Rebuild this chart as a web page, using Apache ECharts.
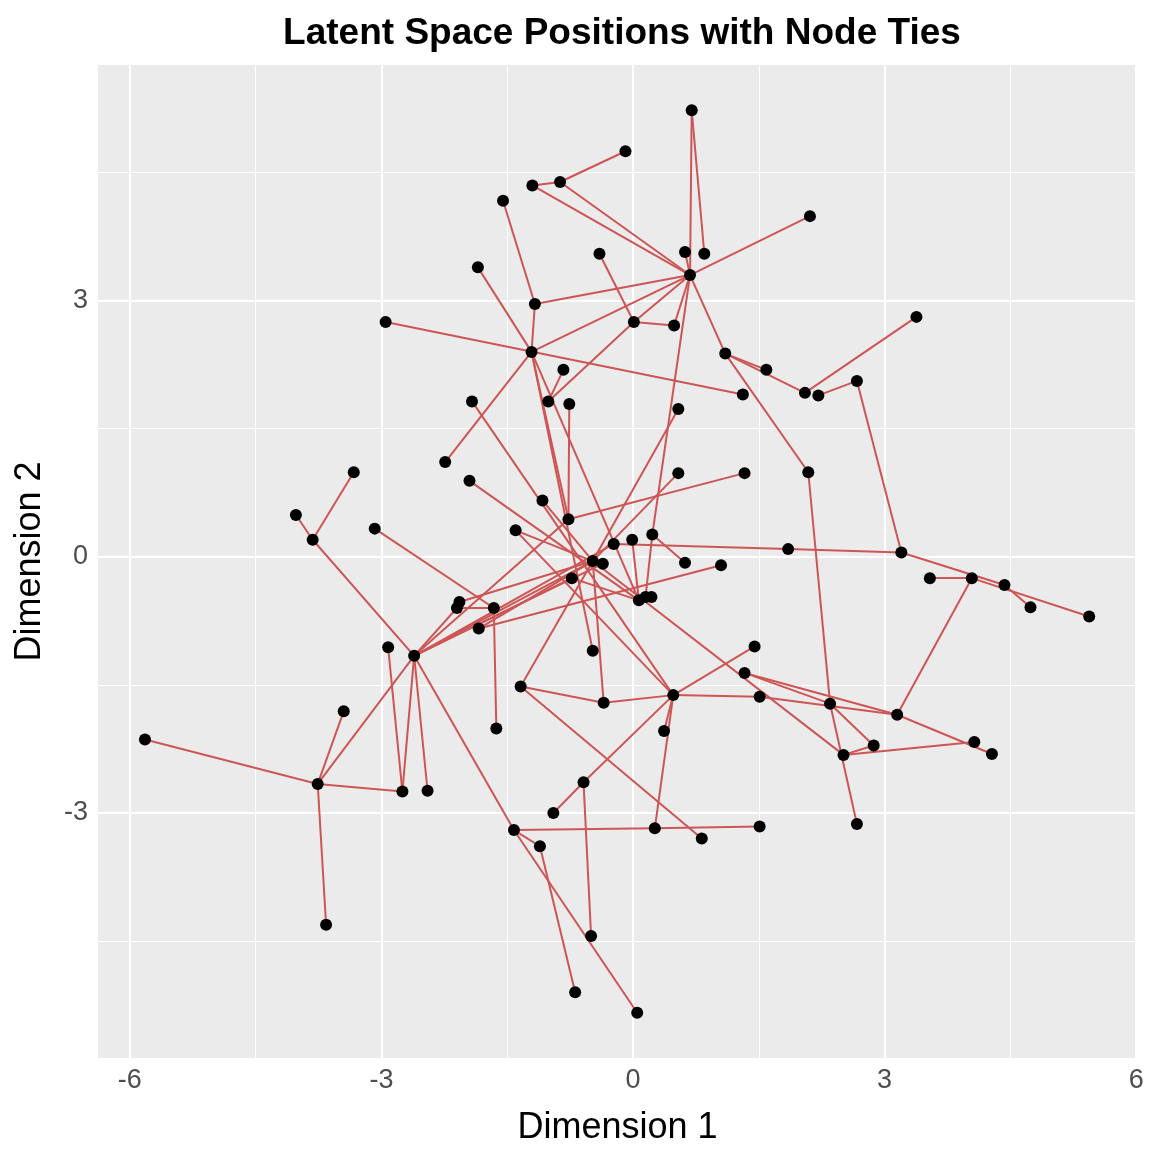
<!DOCTYPE html>
<html>
<head>
<meta charset="utf-8">
<script src="https://cdn.jsdelivr.net/npm/echarts@6/dist/echarts.min.js"></script>
<style>
html, body { margin: 0; padding: 0; background: #fff; }
#chart { width: 1152px; height: 1152px; }
</style>
</head>
<body>
<div id="chart"></div>
<script>
// node ids and latent positions
var nodeIds = ['A','B','C','D','E','F','G','I','J','H1','K','L','M','N','O','P','H2','Q','R','S','T','U','V','W','X','Y','Z','AA','AB','AC','H3','AD','AE','AF','AG','AH','H4','AI','AJ','AK','AL','AM','AN','AO','AP','AQ','AR','AS','AT','AU','AV','AW','AX','AY','AZ','BA','BB','BC','BD','BE','BF','BG','BH','BI','BJ','H5','BK','BL','BM','BN','BO','BP','BQ','BR','BS','BT','BU','BV','BW','BX','BY','H6','BZ','CA','CB','CC','CD','CE','CF','CG','CH','CI','CJ','CK','CL','CM'];
var nodeX = [0.70,-0.09,-0.87,-1.20,-1.55,-1.85,-0.40,0.62,0.85,0.68,-1.17,0.01,0.49,2.11,3.38,-2.95,-1.21,-0.83,1.10,1.59,1.31,-1.92,-1.01,-0.76,0.54,-2.24,-1.95,0.54,1.33,-1.08,-0.77,-1.40,0.23,-0.01,-0.23,1.85,-0.48,-0.36,0.62,1.05,-0.73,-3.33,-4.02,-3.82,-3.08,2.05,2.21,2.67,2.09,3.20,3.54,4.04,4.43,4.74,5.44,2.35,3.15,2.87,2.51,4.07,4.28,2.67,-2.07,-2.10,-2.92,-2.61,-3.45,-5.82,-3.76,-2.75,-2.45,-3.66,-1.66,-1.84,0.07,0.15,0.22,-0.48,1.45,1.33,-1.34,0.48,1.51,-0.35,0.37,-1.63,-0.59,-0.95,-1.42,0.26,1.51,0.82,-1.11,-0.50,-0.69,0.05];
var nodeY = [5.23,4.75,4.39,4.35,4.17,3.39,3.55,3.57,3.55,3.30,2.96,2.75,2.71,3.99,2.81,2.75,2.40,2.19,2.38,2.19,1.90,1.82,1.82,1.79,1.73,1.11,0.89,0.98,0.98,0.66,0.44,0.31,0.26,0.20,0.15,0.09,-0.05,-0.08,-0.07,-0.10,-0.25,0.99,0.49,0.20,0.33,1.92,1.89,2.06,0.99,0.05,-0.25,-0.25,-0.33,-0.59,-0.70,-1.72,-1.85,-2.21,-2.32,-2.17,-2.31,-3.13,-0.53,-0.60,-1.06,-1.16,-1.81,-2.14,-2.66,-2.75,-2.74,-4.31,-0.60,-0.84,-0.51,-0.47,-0.47,-1.10,-1.05,-1.36,-1.52,-1.62,-1.64,-1.71,-2.04,-2.01,-2.64,-3.00,-3.20,-3.18,-3.16,-3.30,-3.39,-4.44,-5.10,-5.34];

// ties
var tieFrom = ['A','A','I','B','C','C','D','E','K','K','F','G','L','L','M','H1','H1','H1','H1','AE','L','Q','P','H2','H2','H2','H2','W','U','Z','AD','AD','H3','AA','X','H4','AE','AG','AH','AK','H3','H5','H5','H5','H5','H5','BH','BJ','H5','H5','H5','BM','BM','BM','BM','H5','AO','AO','AP','BI','BQ','H5','CF','CG','CF','CF','CJ','CD','CD','CD','CG','CB','BY','CA','CA','BY','H6','BX','BX','H6','BZ','H4','AT','BA','BA','BC','BD','BB','BB','AV','AU','AW','AX','R','R','AQ','AR','AS','R','AF','AL','BR','AC'];
var tieTo   = ['H1','J','H1','C','D','H1','H1','K','H1','H2','H2','L','M','H1','H1','N','H2','R','AE','BT','V','V','T','Y','H3','BV','BS','H3','H6','BS','H4','H6','AB','H4','H4','BY','AJ','AH','AU','BR','H5','H4','AI','AL','AG','BI','H4','BN','BN','BO','BM','BK','BL','BP','BN','AO','AN','AM','BQ','BQ','CC','CF','CG','CH','CJ','CM','CL','CK','CE','H6','H6','H6','CA','H6','H4','CI','BW','BA','BB','BZ','BB','BD','BA','BG','BC','BD','BE','BF','AW','AW','AX','AZ','AY','S','AQ','O','AS','AU','AT','BS','BS','H4','H4'];

var xMajor = [-6, -3, 0, 3, 6];
var xMinor = [-4.5, -1.5, 1.5, 4.5];
var yMajor = [-3, 0, 3];
var yMinor = [-4.5, -1.5, 1.5, 4.5];

var myChart = echarts.init(document.getElementById('chart'));

var nodes = nodeIds.map(function (id, i) {
    return { name: id, value: [nodeX[i], nodeY[i]] };
});
var links = tieFrom.map(function (s, i) {
    return { source: s, target: tieTo[i] };
});

// panel grid lines (white, major thicker)
var gridLines = [];
xMinor.forEach(function (v) { gridLines.push({ xAxis: v, lineStyle: { width: 1 } }); });
yMinor.forEach(function (v) { gridLines.push({ yAxis: v, lineStyle: { width: 1 } }); });
xMajor.forEach(function (v) { gridLines.push({ xAxis: v, lineStyle: { width: 2 } }); });
yMajor.forEach(function (v) { gridLines.push({ yAxis: v, lineStyle: { width: 2 } }); });

var font = 'Liberation Sans, Arial, Helvetica, sans-serif';

var option = {
    backgroundColor: '#ffffff',
    animation: false,
    title: {
        text: 'Latent Space Positions with Node Ties',
        left: 617, top: 10, textAlign: 'center',
        textStyle: { fontFamily: font, fontSize: 37, fontWeight: 'bold', color: '#000' }
    },
    grid: {
        left: 98, right: 15, top: 65, bottom: 94,
        show: true, backgroundColor: '#EBEBEB', borderWidth: 0
    },
    xAxis: {
        type: 'value', min: -6.38, max: 6.01,
        name: 'Dimension 1', nameLocation: 'middle', nameGap: 52,
        nameTextStyle: { fontFamily: font, fontSize: 36, color: '#000' },
        axisLine: { show: false },
        axisTick: { show: true, length: 5, customValues: xMajor, lineStyle: { color: '#333', width: 1.5 } },
        axisLabel: { customValues: xMajor, fontFamily: font, fontSize: 27, color: '#4D4D4D', margin: 9 },
        splitLine: { show: false }
    },
    yAxis: {
        type: 'value', min: -5.87, max: 5.76,
        name: 'Dimension 2', nameLocation: 'middle', nameGap: 50, nameRotate: 90,
        nameTextStyle: { fontFamily: font, fontSize: 36, color: '#000' },
        axisLine: { show: false },
        axisTick: { show: true, length: 5, customValues: yMajor, lineStyle: { color: '#333', width: 1.5 } },
        axisLabel: { customValues: yMajor, fontFamily: font, fontSize: 27, color: '#4D4D4D', margin: 10 },
        splitLine: { show: false }
    },
    series: [
        {
            type: 'scatter', data: [], z: 1, silent: true,
            markLine: {
                silent: true, symbol: 'none', animation: false, z: 1,
                label: { show: false },
                lineStyle: { color: '#ffffff', type: 'solid' },
                data: gridLines
            }
        },
        {
            type: 'graph', coordinateSystem: 'cartesian2d', layout: 'none', z: 20,
            symbol: 'circle', symbolSize: 12,
            itemStyle: { color: '#000000' },
            label: { show: false },
            edgeSymbol: ['none', 'none'],
            lineStyle: { color: '#CD5555', width: 2, opacity: 1, curveness: 0 },
            data: nodes,
            links: links
        }
    ]
};

myChart.setOption(option);
</script>
</body>
</html>
